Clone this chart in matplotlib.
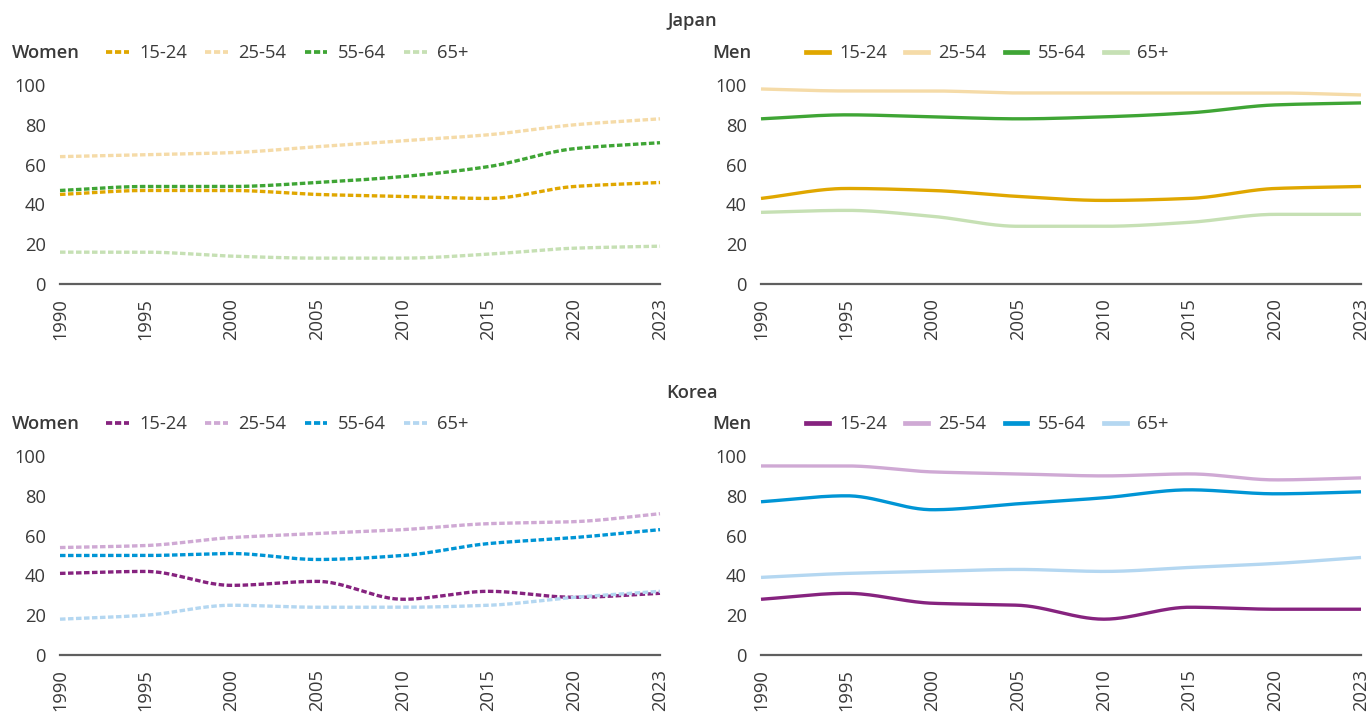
import numpy as np
import matplotlib
matplotlib.use("Agg")
import matplotlib.pyplot as plt
from matplotlib.lines import Line2D

plt.rcParams["font.family"] = ["Open Sans", "DejaVu Sans"]

years = ["1990", "1995", "2000", "2005", "2010", "2015", "2020", "2023"]
age_groups = ["15-24", "25-54", "55-64", "65+"]

# Labour force participation rates (%)
japan_women_15_24 = [45, 47, 47, 45, 44, 43, 49, 51]
japan_women_25_54 = [64, 65, 66, 69, 72, 75, 80, 83]
japan_women_55_64 = [47, 49, 49, 51, 54, 59, 68, 71]
japan_women_65p = [16, 16, 14, 13, 13, 15, 18, 19]

japan_men_15_24 = [43, 48, 47, 44, 42, 43, 48, 49]
japan_men_25_54 = [98, 97, 97, 96, 96, 96, 96, 95]
japan_men_55_64 = [83, 85, 84, 83, 84, 86, 90, 91]
japan_men_65p = [36, 37, 34, 29, 29, 31, 35, 35]

korea_women_15_24 = [41, 42, 35, 37, 28, 32, 29, 31]
korea_women_25_54 = [54, 55, 59, 61, 63, 66, 67, 71]
korea_women_55_64 = [50, 50, 51, 48, 50, 56, 59, 63]
korea_women_65p = [18, 20, 25, 24, 24, 25, 29, 32]

korea_men_15_24 = [28, 31, 26, 25, 18, 24, 23, 23]
korea_men_25_54 = [95, 95, 92, 91, 90, 91, 88, 89]
korea_men_55_64 = [77, 80, 73, 76, 79, 83, 81, 82]
korea_men_65p = [39, 41, 42, 43, 42, 44, 46, 49]

japan_colors = ["#e0a700", "#f5dba8", "#3fa535", "#c6e0b4"]
korea_colors = ["#86237f", "#cfa9d4", "#0095d5", "#b4d7f1"]

TEXT = "#3a3a3a"
FS = 13.2
W, H = 1370, 720


def pchip(x, y, n=30):
    """Monotone cubic (Fritsch-Carlson) interpolation for smooth curves."""
    x = np.asarray(x, float)
    y = np.asarray(y, float)
    h = np.diff(x)
    d = np.diff(y) / h
    m = np.zeros_like(y)
    m[0], m[-1] = d[0], d[-1]
    for k in range(1, len(y) - 1):
        if d[k - 1] * d[k] <= 0:
            m[k] = 0.0
        else:
            w1 = 2 * h[k] + h[k - 1]
            w2 = h[k] + 2 * h[k - 1]
            m[k] = (w1 + w2) / (w1 / d[k - 1] + w2 / d[k])
    xs, ys = [], []
    for k in range(len(x) - 1):
        t = np.linspace(0, 1, n, endpoint=(k == len(x) - 2))
        h00 = 2 * t**3 - 3 * t**2 + 1
        h10 = t**3 - 2 * t**2 + t
        h01 = -2 * t**3 + 3 * t**2
        h11 = t**3 - t**2
        xs.append(x[k] + t * h[k])
        ys.append(h00 * y[k] + h10 * h[k] * m[k] + h01 * y[k + 1] + h11 * h[k] * m[k + 1])
    return np.concatenate(xs), np.concatenate(ys)


fig = plt.figure(figsize=(W / 100, H / 100), dpi=100)


def px_axes(x0, x1, y0_px, y100_px):
    return fig.add_axes([x0 / W, 1 - y0_px / H, (x1 - x0) / W, (y0_px - y100_px) / H])


DASH = (1.65, 0.75)
LW = 2.4


def panel(ax, series, colors, dashed, sex_label, lx, ly):
    xi = np.arange(len(years))
    handles = []
    for vals, col in zip(series, colors):
        sx, sy = pchip(xi, vals)
        kw = dict(color=col, lw=LW, solid_capstyle="butt", dash_capstyle="butt")
        if dashed:
            ax.plot(sx, sy, linestyle=(0, DASH), **kw)
        else:
            ax.plot(sx, sy, **kw)
        handles.append(Line2D([], [], color=col, lw=LW + (0.3 if dashed else 1.0),
                              linestyle=(0, DASH) if dashed else "-",
                              dash_capstyle="butt"))
    ax.set_xlim(0, len(years) - 1)
    ax.set_ylim(0, 100)
    ax.set_xticks(xi)
    ax.set_xticklabels(years, rotation=90, fontsize=FS, color=TEXT)
    ax.set_yticks([0, 20, 40, 60, 80, 100])
    ax.set_yticklabels(["0", "20", "40", "60", "80", "100"], fontsize=FS, color=TEXT)
    ax.tick_params(axis="both", length=0)
    ax.tick_params(axis="y", pad=10)
    ax.tick_params(axis="x", pad=10)
    for s in ["top", "right", "left"]:
        ax.spines[s].set_visible(False)
    ax.spines["bottom"].set_color("#5f5f5f")
    ax.spines["bottom"].set_linewidth(1.6)
    ax.patch.set_alpha(0)
    for ln in ax.lines:
        ln.set_clip_on(False)

    fig.text(lx / W, 1 - ly / H, sex_label, fontsize=FS, fontweight="semibold",
             color=TEXT, va="center", ha="left")
    fig.legend(handles, age_groups, loc="center left",
               bbox_to_anchor=((lx + 94) / W, 1 - ly / H), ncol=4, frameon=False,
               fontsize=FS, labelcolor=TEXT, handlelength=1.25, handletextpad=0.55,
               columnspacing=1.0, borderaxespad=0, borderpad=0)


ax_jw = px_axes(60, 660, 284, 85)
ax_jm = px_axes(761, 1361, 284, 85)
ax_kw = px_axes(60, 660, 655, 456)
ax_km = px_axes(761, 1361, 655, 456)

panel(ax_jw, [japan_women_15_24, japan_women_25_54, japan_women_55_64, japan_women_65p],
      japan_colors, True, "Women", 12, 53)
panel(ax_jm, [japan_men_15_24, japan_men_25_54, japan_men_55_64, japan_men_65p],
      japan_colors, False, "Men", 712, 53)
panel(ax_kw, [korea_women_15_24, korea_women_25_54, korea_women_55_64, korea_women_65p],
      korea_colors, True, "Women", 12, 424)
panel(ax_km, [korea_men_15_24, korea_men_25_54, korea_men_55_64, korea_men_65p],
      korea_colors, False, "Men", 712, 424)

fig.text(692 / W, 1 - 21 / H, "Japan", fontsize=FS, fontweight="semibold", color=TEXT,
         ha="center", va="center")
fig.text(692 / W, 1 - 393 / H, "Korea", fontsize=FS, fontweight="semibold", color=TEXT,
         ha="center", va="center")

fig.savefig("out.png", dpi=100, facecolor="white")
